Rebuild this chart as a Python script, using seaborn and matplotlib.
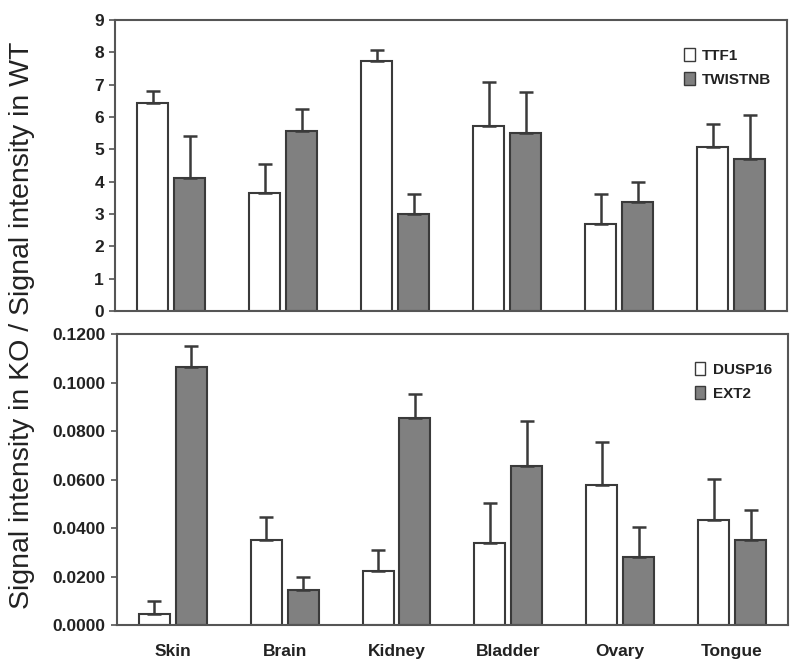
import matplotlib
matplotlib.use("Agg")
import matplotlib.pyplot as plt
import seaborn as sns
import pandas as pd
import numpy as np
from matplotlib.ticker import FormatStrFormatter
from matplotlib.patches import Patch

tissues = ["Skin", "Brain", "Kidney", "Bladder", "Ovary", "Tongue"]

ttf1 = [6.43, 3.66, 7.73, 5.71, 2.70, 5.07]
ttf1_err = [0.37, 0.90, 0.34, 1.37, 0.93, 0.71]
twistnb = [4.13, 5.56, 3.01, 5.50, 3.38, 4.71]
twistnb_err = [1.27, 0.68, 0.62, 1.27, 0.62, 1.37]

dusp16 = [0.0047, 0.0352, 0.0224, 0.0337, 0.0576, 0.0434]
dusp16_err = [0.0053, 0.0092, 0.0085, 0.0167, 0.0179, 0.0168]
ext2 = [0.1065, 0.0146, 0.0852, 0.0657, 0.0279, 0.0351]
ext2_err = [0.0087, 0.0053, 0.0101, 0.0186, 0.0126, 0.0123]

sns.set_theme(style="white")
plt.rcParams['font.family'] = ['Liberation Sans', 'DejaVu Sans']

fig = plt.figure(figsize=(8, 6.71), dpi=100)
ax1 = fig.add_axes([0.144, 0.5365, 0.840, 0.4335])
ax2 = fig.add_axes([0.146, 0.0686, 0.839, 0.4334])

WHITE = "#ffffff"
GRAY = "#808080"
EDGE = "#3a3a3a"

def panel(ax, s1, e1, n1, s2, e2, n2, ylim, ticks, fmt):
    df = pd.DataFrame({
        "tissue": tissues * 2,
        "gene": [n1] * len(tissues) + [n2] * len(tissues),
        "value": list(s1) + list(s2),
    })
    sns.barplot(data=df, x="tissue", y="value", hue="gene", order=tissues,
                hue_order=[n1, n2], palette=[WHITE, GRAY], width=0.66, gap=0.16,
                edgecolor=EDGE, linewidth=1.5, errorbar=None, ax=ax, legend=False)
    errs = list(e1) + list(e2)
    vals = list(s1) + list(s2)
    patches = ax.patches[:len(vals)]
    xs = [p.get_x() + p.get_width() / 2 for p in patches]
    ax.errorbar(xs, vals, yerr=[np.zeros(len(vals)), errs], fmt="none",
                ecolor=EDGE, elinewidth=1.8, capsize=5, capthick=1.8, zorder=1)
    ax.set_ylim(*ylim)
    ax.set_xlim(-0.5, len(tissues) - 0.5)
    ax.set_yticks(ticks)
    ax.yaxis.set_major_formatter(FormatStrFormatter(fmt))
    ax.set_xlabel("")
    ax.set_ylabel("")
    for sp in ax.spines.values():
        sp.set_color("#555555")
        sp.set_linewidth(1.5)
    ax.tick_params(axis="y", left=True, length=4, width=1.2, color="#555555",
                   labelsize=12.5, pad=4)
    ax.tick_params(axis="x", bottom=False, labelsize=12.5, pad=8)
    for lab in ax.get_yticklabels() + ax.get_xticklabels():
        lab.set_fontweight("bold")
        lab.set_color("#222222")
    handles = [Patch(facecolor=WHITE, edgecolor=EDGE, linewidth=1, label=n1),
               Patch(facecolor=GRAY, edgecolor=EDGE, linewidth=1, label=n2)]
    leg = ax.legend(handles=handles, loc="upper right", bbox_to_anchor=(0.997, 0.95),
                    frameon=False, handlelength=0.7, handleheight=0.9,
                    handletextpad=0.5, labelspacing=0.6,
                    prop={"weight": "bold", "size": 11})
    for t in leg.get_texts():
        t.set_color("#222222")

panel(ax1, ttf1, ttf1_err, "TTF1", twistnb, twistnb_err, "TWISTNB",
      (0, 9), list(range(0, 10)), "%d")
ax1.set_xticklabels([])
panel(ax2, dusp16, dusp16_err, "DUSP16", ext2, ext2_err, "EXT2",
      (0, 0.12), [0, 0.02, 0.04, 0.06, 0.08, 0.10, 0.12], "%.4f")

fig.text(0.028, 0.515, "Signal intensity in KO / Signal intensity in WT",
         rotation=90, va="center", ha="center", fontsize=20.5, color="#222222")

fig.savefig("out.png", dpi=100)
